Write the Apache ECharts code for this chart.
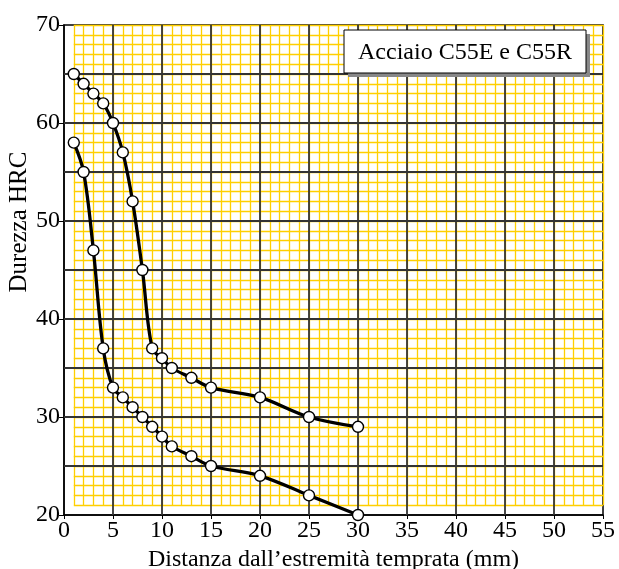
<!DOCTYPE html>
<html><head><meta charset="utf-8">
<script src="https://cdn.jsdelivr.net/npm/echarts@6/dist/echarts.min.js"></script>
<style>html,body{margin:0;padding:0;background:#fff}#c{width:619px;height:569px}</style>
</head><body><div id="c"></div>
<script>
// Data
const upperX = [1, 2, 3, 4, 5, 6, 7, 8, 9, 10, 11, 13, 15, 20, 25, 30];
const upperY = [65, 64, 63, 62, 60, 57, 52, 45, 37, 36, 35, 34, 33, 32, 30, 29];
const lowerX = [1, 2, 3, 4, 5, 6, 7, 8, 9, 10, 11, 13, 15, 20, 25, 30];
const lowerY = [58, 55, 47, 37, 33, 32, 31, 30, 29, 28, 27, 26, 25, 24, 22, 20];
const xTicks = [0, 5, 10, 15, 20, 25, 30, 35, 40, 45, 50, 55];
const yTicks = [20, 30, 40, 50, 60, 70];
const minorX = []; for (let v = 1; v <= 55; v++) minorX.push(v);
const minorY = []; for (let v = 21; v <= 70; v++) minorY.push(v);
const majorX = [5, 10, 15, 20, 25, 30, 35, 40, 45, 50];
const majorY = [25, 30, 35, 40, 45, 50, 55, 60, 65];
const titleText = 'Acciaio C55E e C55R';
const xName = 'Distanza dall\u2019estremit\u00e0 temprata (mm)';
const yName = 'Durezza HRC';

const FONT = 'Liberation Serif';
const chart = echarts.init(document.getElementById('c'));

const yellowLines = [];
minorX.forEach(v => yellowLines.push([{coord: [v, 21]}, {coord: [v, 70]}]));
minorY.forEach(v => yellowLines.push([{coord: [1, v]}, {coord: [55, v]}]));
const blackLines = [];
majorX.forEach(v => blackLines.push([{coord: [v, 20]}, {coord: [v, 70]}]));
majorY.forEach(v => blackLines.push([{coord: [0, v]}, {coord: [55, v]}]));

const pairs = (xs, ys) => xs.map((x, i) => [x, ys[i]]);

chart.setOption({
  animation: false,
  grid: {left: 64, right: 16, top: 25, bottom: 54, containLabel: false, outerBoundsMode: 'none',
    show: true, borderColor: '#000', borderWidth: 1.5, backgroundColor: 'transparent'},
  xAxis: {
    type: 'value', min: 0, max: 55, interval: 5,
    axisLine: {show: true, lineStyle: {color: '#000', width: 1.5}},
    axisTick: {show: true, length: 4, lineStyle: {color: '#000'}},
    splitLine: {show: false},
    axisLabel: {color: '#000', fontFamily: FONT, fontSize: 24, margin: 4, hideOverlap: false,
      formatter: v => xTicks.includes(v) ? String(v) : ''},
    name: xName, nameLocation: 'middle', nameGap: 31,
    nameTextStyle: {color: '#000', fontFamily: FONT, fontSize: 24}
  },
  yAxis: {
    type: 'value', min: 20, max: 70, interval: 10,
    axisLine: {show: true, lineStyle: {color: '#000', width: 1.5}},
    axisTick: {show: true, length: 5, lineStyle: {color: '#000'}},
    splitLine: {show: false},
    axisLabel: {color: '#000', fontFamily: FONT, fontSize: 24, margin: 4,
      padding: [0, 0, 9, 0],
      formatter: v => yTicks.includes(v) ? String(v) : ''},
  },
  graphic: [
    {type: 'text', z: 100, rotation: Math.PI / 2, x: 19, y: 222,
      style: {text: yName, fontFamily: FONT, fontSize: 25, fill: '#000', align: 'center', verticalAlign: 'middle'}},
    {type: 'group', x: 344, y: 30, z: 100, children: [
      {type: 'rect', z: 100, shape: {x: 4, y: 4, width: 242, height: 43}, style: {fill: '#888'}},
      {type: 'rect', z: 101, shape: {x: 0, y: 0, width: 242, height: 43}, style: {fill: '#fff', stroke: '#000', lineWidth: 1}},
      {type: 'text', z: 102, style: {text: titleText, x: 121, y: 23, align: 'center', verticalAlign: 'middle', fontFamily: FONT, fontSize: 24, fill: '#000'}}
    ]}
  ],
  series: [
    {type: 'line', data: [], z: 1, silent: true,
      markLine: {silent: true, symbol: 'none', label: {show: false}, animation: false,
        lineStyle: {color: '#FFCF00', width: 1.3, type: 'solid', opacity: 1}, data: yellowLines}},
    {type: 'line', data: [], z: 2, silent: true,
      markLine: {silent: true, symbol: 'none', label: {show: false}, animation: false,
        lineStyle: {color: '#333', width: 1.8, type: 'solid', opacity: 1}, data: blackLines}},
    {type: 'line', data: pairs(upperX, upperY), smooth: 0.35, z: 5,
      lineStyle: {color: '#000', width: 3.3}, symbol: 'circle', symbolSize: 11,
      itemStyle: {color: '#fff', borderColor: '#000', borderWidth: 1.4}},
    {type: 'line', data: pairs(lowerX, lowerY), smooth: 0.35, z: 5,
      lineStyle: {color: '#000', width: 3.3}, symbol: 'circle', symbolSize: 11,
      itemStyle: {color: '#fff', borderColor: '#000', borderWidth: 1.4}}
  ]
});
</script></body></html>
